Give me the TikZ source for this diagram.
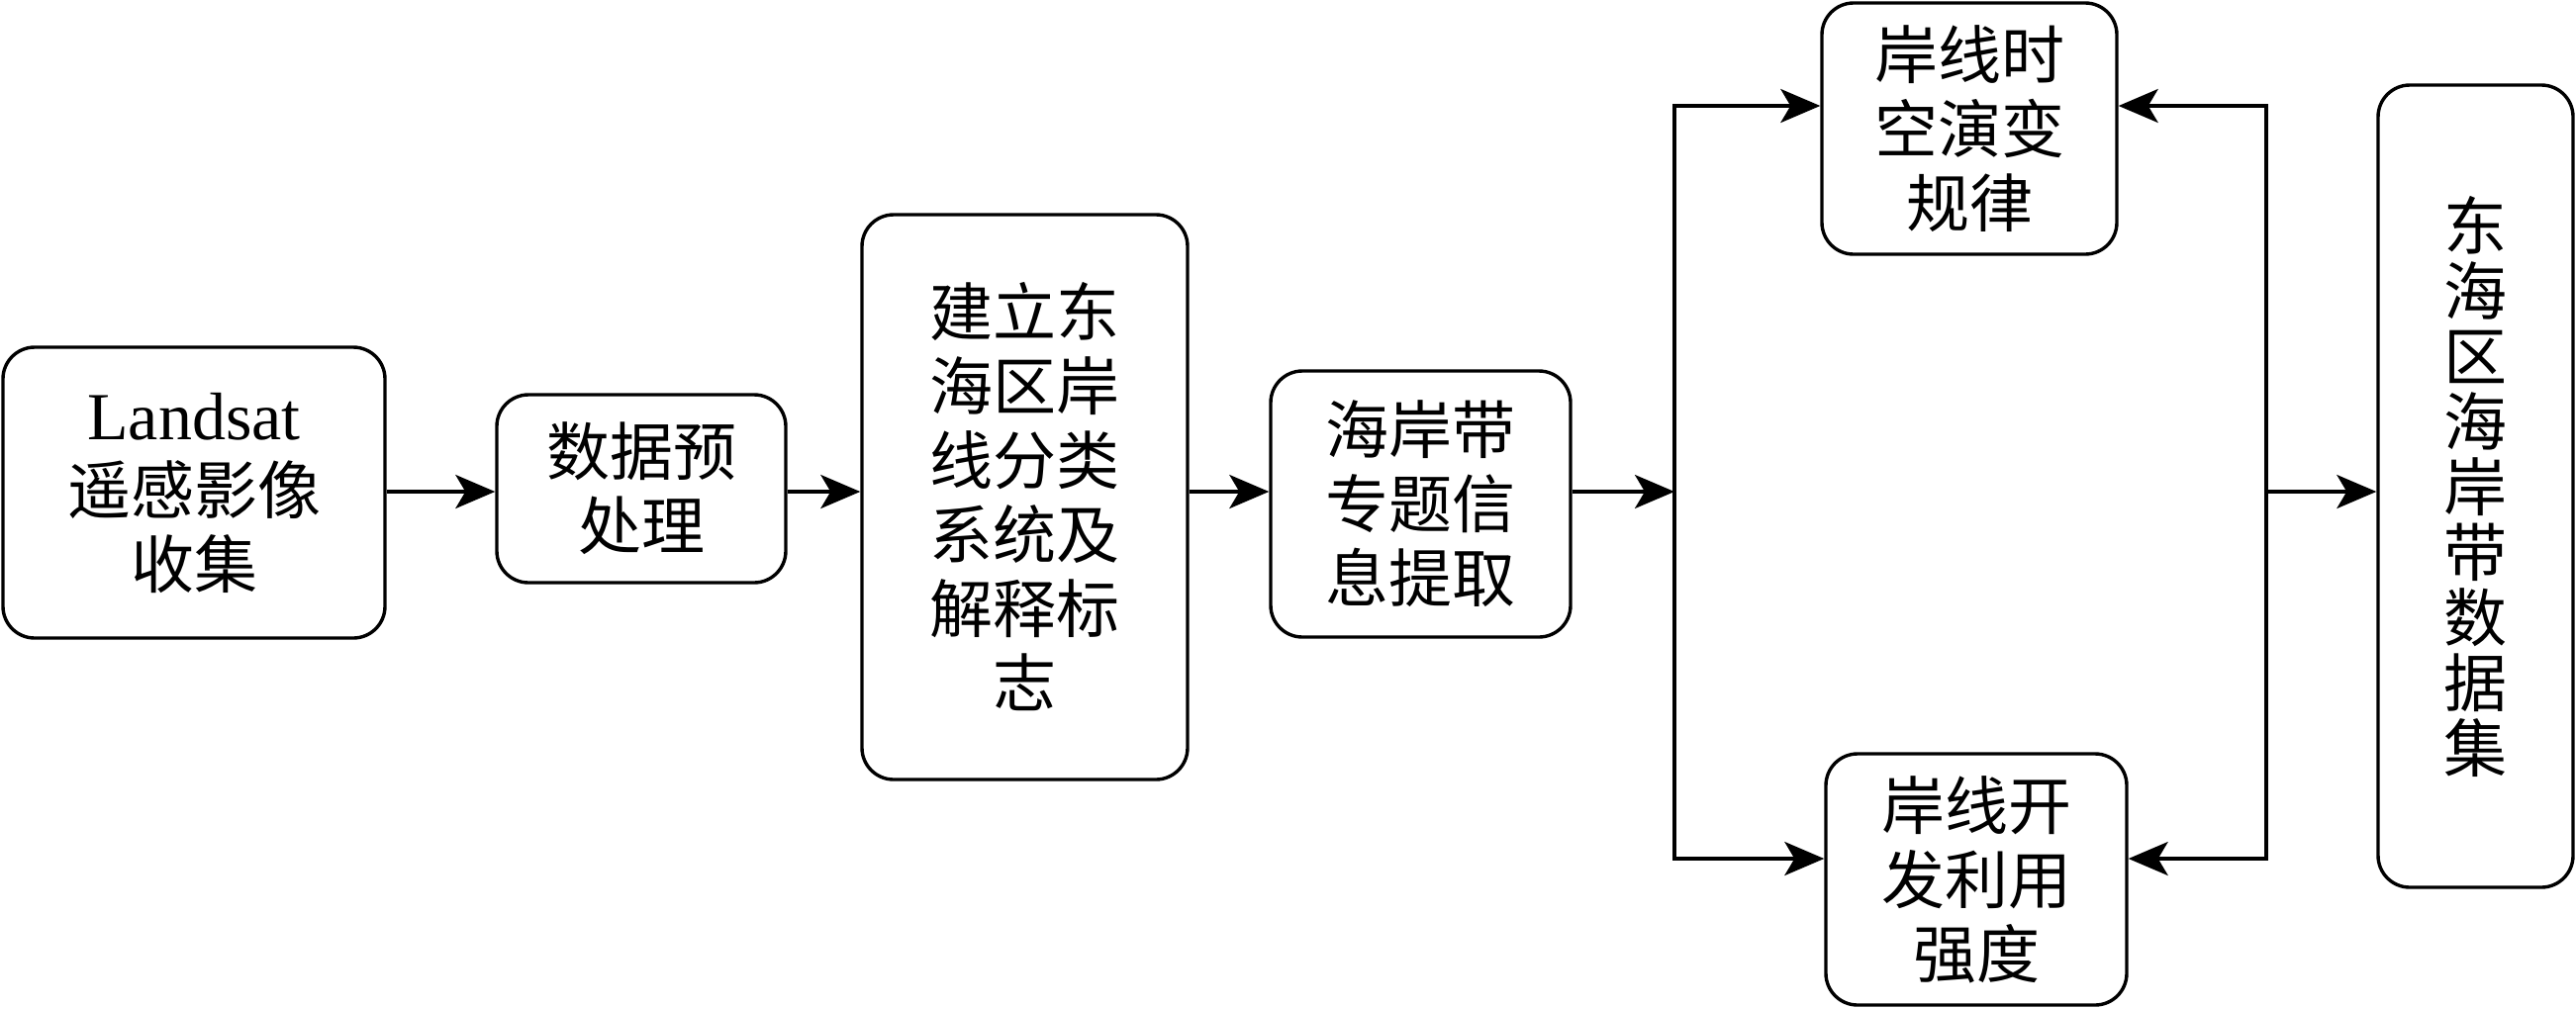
\documentclass[tikz,border=0pt]{standalone}
\usepackage{fontspec}
\setmainfont{Liberation Serif}
\newfontfamily\cjk{Noto Sans CJK SC}
\usetikzlibrary{arrows.meta}

\tikzset{
  stage/.style={draw, line width=0.85pt, rounded corners=8pt, align=center, inner sep=0pt,
    font=\cjk\fontsize{16}{18.75}\selectfont},
  flow/.style={line width=0.85pt, -{Stealth[length=10pt,width=8.5pt,inset=2.5pt]}},
}

\begin{document}
\begin{tikzpicture}[x=0.25pt,y=0.25pt,yscale=-1,xscale=1]
\useasboundingbox (0,0) rectangle (2603,1019);

% Text Node
\node (landsat) [stage, minimum width=96.5pt, minimum height=73.5pt] at (196,498) {{\rmfamily\fontsize{17}{18.75}\selectfont Landsat}\\遥感影像\\收集};
% Text Node
\node (preproc) [stage, minimum width=73pt, minimum height=47.5pt] at (648,494) {数据预\\处理};
% Text Node
\node (system) [stage, minimum width=82.25pt, minimum height=142.75pt] at (1035.5,502.5) {建立东\\海区岸\\线分类\\系统及\\解释标\\志};
% Text Node
\node (extract) [stage, minimum width=75.75pt, minimum height=67.25pt] at (1435.5,509.5) {海岸带\\专题信\\息提取};
% Text Node
\node (evolution) [stage, minimum width=74.5pt, minimum height=63.5pt] at (1990,130) {岸线时\\空演变\\规律};
% Text Node
\node (intensity) [stage, minimum width=76pt, minimum height=63.5pt] at (1997,889) {岸线开\\发利用\\强度};
% Text Node
\node (dataset) [stage, minimum width=49.25pt, minimum height=202.75pt, font=\cjk\fontsize{16}{16.5}\selectfont] at (2501.5,491.5) {东\\海\\区\\海\\岸\\带\\数\\据\\集};

\coordinate (row) at (0,497);
\coordinate (upper) at (0,107);
\coordinate (lower) at (0,868);
\coordinate (split) at (1692,497);
\coordinate (bus) at (2290,497);

%Straight Lines
\draw [flow] (landsat.east |- row) -- (preproc.west |- row);
\draw [flow] (preproc.east |- row) -- (system.west |- row);
\draw [flow] (system.east |- row) -- (extract.west |- row);
\draw [flow] (extract.east |- row) -- (split);
%Branch Lines
\draw [flow] (split) |- (evolution.west |- upper);
\draw [flow] (split) |- (intensity.west |- lower);
\draw [flow] (bus) |- (evolution.east |- upper);
\draw [flow] (bus) |- (intensity.east |- lower);
\draw [flow] (bus) -- (dataset.west |- bus);

\end{tikzpicture}
\end{document}
